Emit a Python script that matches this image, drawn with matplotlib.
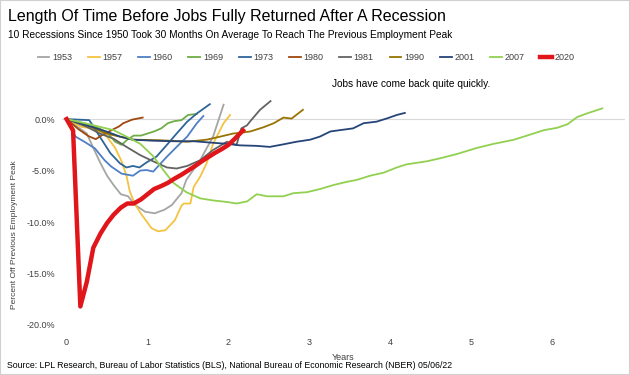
import matplotlib
matplotlib.use('Agg')
import matplotlib.pyplot as plt
from matplotlib.patches import Rectangle

plt.rcParams['font.family'] = ['Liberation Sans', 'DejaVu Sans']

# years after the employment peak, percent off the previous peak
x_1953 = [0, 0.25, 0.33, 0.42, 0.5, 0.58, 0.67, 0.76, 0.84, 0.97, 1.09, 1.21, 1.3, 1.42, 1.48, 1.65, 1.81, 1.94]
y_1953 = [0, -1.4, -2.8, -4.3, -5.5, -6.4, -7.3, -7.5, -8.3, -9.0, -9.15, -8.8, -8.35, -7.2, -5.9, -4.0, -1.7, 1.4]

x_1957 = [0, 0.18, 0.31, 0.47, 0.6, 0.68, 0.74, 0.78, 0.84, 0.92, 1.05, 1.13, 1.22, 1.34, 1.42, 1.45, 1.53, 1.57, 1.65, 1.73, 1.81, 1.94, 2.02]
y_1957 = [0, -0.75, -0.9, -1.4, -2.8, -4.1, -5.5, -7.0, -8.2, -9.2, -10.6, -10.9, -10.8, -9.8, -8.4, -8.2, -8.2, -6.6, -5.6, -4.3, -2.4, -0.4, 0.4]

x_1960 = [0, 0.11, 0.22, 0.35, 0.47, 0.55, 0.68, 0.82, 0.91, 0.99, 1.07, 1.24, 1.36, 1.49, 1.61, 1.69]
y_1960 = [0, -1.7, -2.2, -2.85, -4.0, -4.6, -5.3, -5.5, -5.0, -4.95, -5.1, -3.65, -2.7, -1.7, -0.4, 0.3]

x_1969 = [0, 0.1, 0.2, 0.3, 0.4, 0.5, 0.6, 0.68, 0.75, 0.83, 0.92, 1.0, 1.08, 1.17, 1.25, 1.33, 1.42, 1.5, 1.61]
y_1969 = [0, -0.2, -0.4, -0.6, -0.9, -1.3, -2.2, -2.5, -2.0, -1.6, -1.6, -1.4, -1.2, -0.9, -0.4, -0.2, -0.1, 0.4, 0.5]

x_1973 = [0, 0.28, 0.41, 0.54, 0.66, 0.74, 0.82, 0.9, 0.99, 1.11, 1.24, 1.36, 1.49, 1.61, 1.77]
y_1973 = [0, -0.1, -1.7, -3.3, -4.3, -4.7, -4.55, -4.7, -4.2, -3.65, -2.5, -1.4, -0.25, 0.55, 1.45]

x_1980 = [0, 0.15, 0.27, 0.36, 0.44, 0.55, 0.65, 0.7, 0.81, 0.94]
y_1980 = [0, -1.0, -1.65, -1.95, -1.55, -1.1, -0.7, -0.4, -0.05, 0.15]

x_1981 = [0, 0.25, 0.41, 0.58, 0.74, 0.91, 1.07, 1.24, 1.36, 1.49, 1.65, 1.81, 1.98, 2.1, 2.16, 2.23, 2.27, 2.39, 2.52]
y_1981 = [0, -0.75, -1.4, -1.9, -2.7, -3.5, -4.1, -4.7, -4.8, -4.55, -4.0, -3.0, -2.2, -2.5, -0.9, -0.6, -0.2, 0.9, 1.75]

x_1990 = [0, 0.25, 0.49, 0.82, 1.15, 1.49, 1.73, 1.9, 2.06, 2.18, 2.27, 2.43, 2.56, 2.68, 2.78, 2.92]
y_1990 = [0, -0.6, -1.4, -2.0, -2.05, -2.2, -2.0, -1.7, -1.4, -1.3, -1.2, -0.8, -0.4, 0.15, 0.05, 0.9]

x_2001 = [0, 0.25, 0.49, 0.66, 0.82, 1.07, 1.32, 1.57, 1.81, 1.98, 2.14, 2.35, 2.51, 2.68, 2.84, 3.01, 3.13, 3.26, 3.38, 3.54, 3.67, 3.83, 3.96, 4.08, 4.18]
y_2001 = [0, -0.6, -1.2, -1.7, -2.0, -2.1, -2.15, -2.15, -2.3, -2.4, -2.55, -2.6, -2.7, -2.45, -2.2, -2.0, -1.7, -1.2, -1.07, -0.9, -0.4, -0.25, 0.07, 0.4, 0.6]

x_2007 = [0, 0.2, 0.41, 0.58, 0.74, 0.91, 1.07, 1.2, 1.32, 1.48, 1.65, 1.81, 1.98, 2.1, 2.23, 2.35, 2.48, 2.68, 2.8, 2.97,
          3.13, 3.3, 3.46, 3.59, 3.75, 3.92, 4.08, 4.2, 4.45, 4.62, 4.82, 5.07, 5.28, 5.53, 5.77, 5.9, 6.06, 6.19, 6.31, 6.43, 6.62]
y_2007 = [0, -0.35, -0.75, -1.07, -1.7, -2.4, -3.6, -5.0, -6.2, -7.1, -7.7, -7.9, -8.05, -8.2, -8.0, -7.3, -7.5, -7.5, -7.2, -7.1,
          -6.8, -6.4, -6.1, -5.9, -5.5, -5.2, -4.7, -4.4, -4.1, -3.8, -3.4, -2.8, -2.4, -2.0, -1.4, -1.07, -0.85, -0.5, 0.2, 0.55, 1.04]

x_2020 = [0, 0.08, 0.17, 0.25, 0.33, 0.42, 0.5, 0.58, 0.67, 0.75, 0.83, 0.92, 1.0, 1.08, 1.17, 1.25, 1.33, 1.42, 1.5,
          1.58, 1.67, 1.75, 1.83, 1.92, 2.0, 2.08, 2.18]
y_2020 = [0, -1.1, -18.2, -15.8, -12.5, -11.1, -10.1, -9.3, -8.6, -8.2, -8.2, -7.8, -7.3, -6.8, -6.5, -6.2, -5.8, -5.4, -5.0,
          -4.6, -4.1, -3.7, -3.3, -2.9, -2.5, -1.9, -1.1]

series = [
    ('1953', x_1953, y_1953, '#A5A5A5', 1.3),
    ('1957', x_1957, y_1957, '#F5C342', 1.3),
    ('1960', x_1960, y_1960, '#4F7FC4', 1.3),
    ('1969', x_1969, y_1969, '#70AD47', 1.3),
    ('1973', x_1973, y_1973, '#2E6599', 1.3),
    ('1980', x_1980, y_1980, '#9E480E', 1.3),
    ('1981', x_1981, y_1981, '#636363', 1.3),
    ('1990', x_1990, y_1990, '#997300', 1.3),
    ('2001', x_2001, y_2001, '#264478', 1.3),
    ('2007', x_2007, y_2007, '#92D050', 1.3),
    ('2020', x_2020, y_2020, '#E0161B', 3.2),
]

fig = plt.figure(figsize=(6.3, 3.75), dpi=100)
ax = fig.add_axes([0.098, 0.106, 0.894, 0.645])

for name, xs, ys, color, lw in series:
    ax.plot(xs, ys, color=color, lw=lw, label=name, solid_joinstyle='round')

ax.axhline(0, color='#D9D9D9', lw=0.8, zorder=0)
ax.set_xlim(-0.06, 6.9)
ax.set_ylim(-21, 2.5)
ax.set_yticks([0, -5, -10, -15, -20])
ax.set_yticklabels(['0.0%', '-5.0%', '-10.0%', '-15.0%', '-20.0%'])
ax.set_xticks(range(7))
for s in ax.spines.values():
    s.set_visible(False)
ax.tick_params(length=0, labelsize=6.5, colors='#404040')
ax.tick_params(axis='x', pad=2)
ax.tick_params(axis='y', pad=5)
ax.set_xlabel('Years', fontsize=6.5, color='#404040', labelpad=4)
ax.set_ylabel('Percent Off Previous Employment Peak', fontsize=6.0, color='#404040')
ax.yaxis.set_label_coords(-0.0776, 0.414)

leg = ax.legend(ncol=11, loc='center', frameon=False, fontsize=6.5, handlelength=1.3,
                handletextpad=0.3, columnspacing=1.75, labelcolor='#404040')
leg.set_bbox_to_anchor((0.486, 1 - 58 / 375), transform=fig.transFigure)

fig.text(0.013, 1 - 17 / 375, 'Length Of Time Before Jobs Fully Returned After A Recession',
         fontsize=11.5, va='center', ha='left', color='#000000')
fig.text(0.013, 1 - 35 / 375, '10 Recessions Since 1950 Took 30 Months On Average To Reach The Previous Employment Peak',
         fontsize=7.3, va='center', ha='left', color='#000000')
fig.text(0.527, 1 - 84 / 375, 'Jobs have come back quite quickly.', fontsize=7.3, va='center', ha='left')
fig.text(0.011, 1 - 365 / 375,
         'Source: LPL Research, Bureau of Labor Statistics (BLS), National Bureau of Economic Research (NBER) 05/06/22',
         fontsize=6.3, va='center', ha='left')

fig.patches.append(Rectangle((0, 0), 1, 1, transform=fig.transFigure, fill=False,
                             edgecolor='#D0D0D0', lw=1.5))

fig.savefig('out.png', dpi=100)
